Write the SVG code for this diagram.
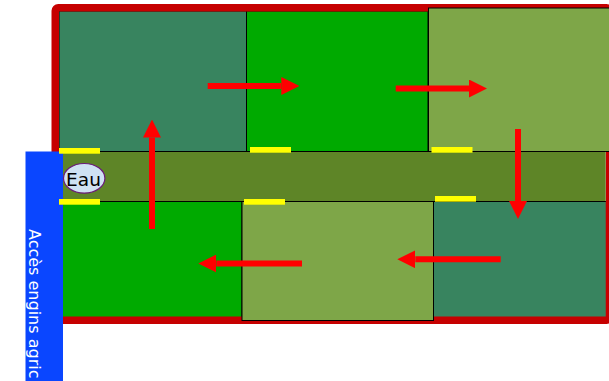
<svg xmlns="http://www.w3.org/2000/svg" width="609" height="381" viewBox="0 0 609 381">
  <style>
    .cell { stroke: #000; stroke-width: 1; }
    .teal { fill: #38845f; }
    .green { fill: #00aa00; }
    .light { fill: #7ea648; }
    .gate { fill: #ffff00; }
    .edge { stroke: #000; stroke-width: 1; }
    .arrow { stroke: #ff0000; stroke-width: 6; fill: none; marker-end: url(#head); }
    text { font-family: "DejaVu Sans", "Liberation Sans", sans-serif; }
  </style>
  <defs>
    <marker id="head" markerUnits="userSpaceOnUse" markerWidth="18" markerHeight="18" refX="0" refY="9" orient="auto">
      <path d="M0 0L18 9L0 18Z" fill="#ff0000"/>
    </marker>
  </defs>
  <rect width="609" height="381" fill="#ffffff"/>
  <g id="parcelle-1"><rect class="cell teal" x="59" y="11" width="187.500" height="141"/></g>
  <g id="parcelle-2"><rect class="cell green" x="246.500" y="11" width="181.500" height="141"/></g>
  <g id="parcelle-5"><rect class="cell green" x="59" y="201.500" width="183" height="116"/></g>
  <g id="parcelle-7"><rect class="cell teal" x="433.500" y="201.500" width="173" height="116"/></g>
  <g id="cloture"><rect x="55.250" y="7.750" width="554.250" height="312.500" rx="3" fill="none" stroke="#c60000" stroke-width="7.500"/></g>
  <g id="parcelle-3"><rect class="cell light" x="428.500" y="8" width="185" height="143.500"/></g>
  <g id="chemin">
    <rect x="59" y="151.500" width="546.700" height="50" fill="#5e8527"/>
    <line class="edge" x1="59" y1="151.500" x2="605.700" y2="151.500"/>
    <line class="edge" x1="59" y1="201.500" x2="605.700" y2="201.500"/>
  </g>
  <g id="parcelle-6"><rect class="cell light" x="242" y="201.500" width="191.500" height="119"/></g>
  <g id="acces">
    <rect x="25.500" y="151.500" width="37.500" height="232" fill="#0a46ff"/>
    <text transform="translate(28.500 229) rotate(90)" font-size="16" fill="#ffffff">Accès engins agric</text>
  </g>
  <g id="portes">
    <rect class="gate" x="59" y="148" width="41" height="5.700"/>
    <rect class="gate" x="59" y="199" width="41" height="5.700"/>
    <rect class="gate" x="250" y="147" width="41" height="5.700"/>
    <rect class="gate" x="431.500" y="147" width="41" height="5.700"/>
    <rect class="gate" x="244" y="199" width="41" height="5.700"/>
    <rect class="gate" x="435" y="196" width="41" height="5.700"/>
  </g>
  <g id="eau">
    <ellipse cx="84.200" cy="178.300" rx="20.700" ry="14.800" fill="#cfe2f3" stroke="#6a1b7a" stroke-width="1.200"/>
    <text x="83.500" y="186" font-size="18.500" text-anchor="middle" fill="#000000">Eau</text>
  </g>
  <g id="connecteurs">
    <line class="arrow" x1="207.700" y1="86" x2="281.300" y2="86"/>
    <line class="arrow" x1="395.700" y1="88.500" x2="469" y2="88.500"/>
    <line class="arrow" x1="518" y1="129" x2="518" y2="201"/>
    <line class="arrow" x1="500.700" y1="259.300" x2="415.300" y2="259.300"/>
    <line class="arrow" x1="302" y1="263.500" x2="216.300" y2="263.500"/>
    <line class="arrow" x1="152" y1="229" x2="152" y2="137.500"/>
  </g>
</svg>
